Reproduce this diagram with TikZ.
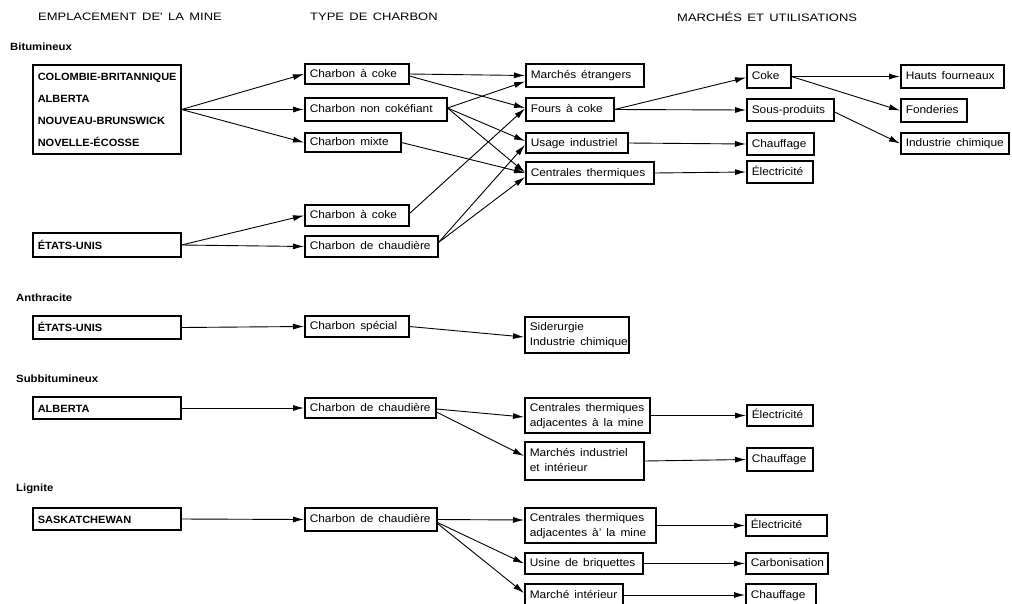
\documentclass[tikz,border=0pt]{standalone}
\usepackage{fontspec}
\setmainfont[FakeStretch=1.08]{Liberation Sans}
\newfontfamily\hdfont[FakeStretch=1.2]{Liberation Sans}
\newfontfamily\srcfont[FakeStretch=1.05]{Liberation Sans Bold}
\usetikzlibrary{arrows.meta}
\newcommand\Bx[6]{\node[#1, minimum width=#4pt, minimum height=#5pt] (#2) at (#3) {\makebox[\dimexpr#4pt-10pt\relax][l]{\begin{tabular}{@{}l@{}}#6\end{tabular}}};}
\newcommand\fBx{\fontsize{11}{15}\selectfont\spaceskip=0.45em\relax}
\newcommand\fSrc{\srcfont\fontsize{10.5}{22}\selectfont\spaceskip=0.4em\relax}
\newcommand\fHd{\hdfont\fontsize{10.8}{12}\selectfont\spaceskip=0.5em\relax}
\newcommand\fSec{\bfseries\fontsize{10.5}{12}\selectfont}
\tikzset{
 bx/.style={draw, line width=1.5pt, inner xsep=5pt, inner ysep=0pt, anchor=west, font=\fBx},
 src/.style={bx, font=\fSrc},
 hd/.style={anchor=west, inner sep=0pt, font=\fHd},
 sec/.style={anchor=west, inner sep=0pt, font=\fSec},
 ar/.style={-{Latex[length=11pt,width=6pt]}, line width=0.9pt},
}
\begin{document}
\begin{tikzpicture}[x=1pt,y=-1pt]
\useasboundingbox (0,0) rectangle (1012,603);
% headers
\node[hd] (h1) at (38,17) {EMPLACEMENT DE' LA MINE};
\node[hd] (h2) at (310,17) {TYPE DE CHARBON};
\node[hd] (h3) at (677,17) {MARCHÉS ET UTILISATIONS};
% section labels
\node[sec] (s1) at (10,47) {Bitumineux};
\node[sec] (s2) at (16,298) {Anthracite};
\node[sec] (s3) at (16,379) {Subbitumineux};
\node[sec] (s4) at (16,489) {Lignite};
% Bitumineux
\Bx{src}{bc}{32,109.5}{148}{89}{COLOMBIE-BRITANNIQUE\\ALBERTA\\NOUVEAU-BRUNSWICK\\NOVELLE-ÉCOSSE}
\Bx{src}{eu1}{32,245}{148}{24}{ÉTATS-UNIS}
\Bx{bx}{ck1}{304,74}{104}{20}{Charbon à coke}
\Bx{bx}{nc}{304,109.5}{142}{23}{Charbon non cokéfiant}
\Bx{bx}{mx}{304,142.5}{96}{19}{Charbon mixte}
\Bx{bx}{ck2}{304,215.5}{104}{21}{Charbon à coke}
\Bx{bx}{ch1}{304,246.5}{133}{21}{Charbon de chaudière}
\Bx{bx}{me}{525,75.5}{118}{23}{Marchés étrangers}
\Bx{bx}{fc}{525,109.5}{88}{23}{Fours à coke}
\Bx{bx}{ui}{525,143}{102}{20}{Usage industriel}
\Bx{bx}{ct}{525,173}{128}{22}{Centrales thermiques}
\Bx{bx}{co}{746,76.5}{44}{23}{Coke}
\Bx{bx}{sp}{746,110}{87}{22}{Sous-produits}
\Bx{bx}{cf1}{746,144}{67}{22}{Chauffage}
\Bx{bx}{el1}{746,172}{66}{22}{Électricité}
\Bx{bx}{hf}{900,76.5}{103}{23}{Hauts fourneaux}
\Bx{bx}{fo}{900,110.5}{66}{23}{Fonderies}
\Bx{bx}{ic}{900,143.5}{108}{21}{Industrie chimique}
% Anthracite
\Bx{src}{eu2}{32,327.5}{148}{23}{ÉTATS-UNIS}
\Bx{bx}{cs}{304,326.5}{104}{21}{Charbon spécial}
\Bx{bx}{si}{524,335}{104}{36}{Siderurgie\\Industrie chimique}
% Subbitumineux
\Bx{src}{ab}{32,408}{148}{22}{ALBERTA}
\Bx{bx}{ch2}{304,408}{131}{20}{Charbon de chaudière}
\Bx{bx}{ca1}{524,415.5}{125}{35}{Centrales thermiques\\adjacentes à la mine}
\Bx{bx}{mi}{524,461}{119}{38}{Marchés industriel\\et intérieur}
\Bx{bx}{el2}{746,415.5}{66}{21}{Électricité}
\Bx{bx}{cf2}{746,459.5}{66}{23}{Chauffage}
% Lignite
\Bx{src}{sk}{32,519}{148}{22}{SASKATCHEWAN}
\Bx{bx}{ch3}{304,519.5}{132}{23}{Charbon de chaudière}
\Bx{bx}{ca2}{524,525.5}{131}{35}{Centrales thermiques\\adjacentes à' la mine}
\Bx{bx}{ub}{524,563.5}{118}{21}{Usine de briquettes}
\Bx{bx}{mint}{524,595}{98}{22}{Marché intérieur}
\Bx{bx}{el3}{745,525.5}{81}{21}{Électricité}
\Bx{bx}{carb}{745,563.5}{82}{21}{Carbonisation}
\Bx{bx}{cf3}{745,595}{70}{22}{Chauffage}
% connectors - Bitumineux
\draw[ar] (bc.east) -- (ck1.west);
\draw[ar] (bc.east) -- (nc.west);
\draw[ar] (bc.east) -- (mx.west);
\draw[ar] (eu1.east) -- (ck2.west);
\draw[ar] (eu1.east) -- (ch1.west);
\draw[ar] (ck1.east) -- (me.west);
\draw[ar] ([yshift=-2pt]ck1.east) -- ([yshift=1.5pt]fc.west);
\draw[ar] ([yshift=1.5pt]nc.east) -- ([yshift=-6pt]me.west);
\draw[ar] ([yshift=1.5pt]nc.east) -- ([yshift=2pt]ui.west);
\draw[ar] ([yshift=1.5pt]nc.east) -- ([yshift=0.5pt]ct.west);
\draw[ar] (mx.east) -- ([yshift=0pt]ct.west);
\draw[ar] ([yshift=2pt]ck2.east) -- ([yshift=1pt]fc.west);
\draw[ar] ([yshift=4pt]ch1.east) -- ([yshift=-2pt]ui.west);
\draw[ar] ([yshift=4pt]ch1.east) -- ([yshift=-4pt]ct.west);
\draw[ar] (fc.east) -- ([yshift=-1pt]co.west);
\draw[ar] (fc.east) -- (sp.west);
\draw[ar] (ui.east) -- (cf1.west);
\draw[ar] (ct.east) -- (el1.west);
\draw[ar] (co.east) -- (hf.west);
\draw[ar] (co.east) -- (fo.west);
\draw[ar] ([yshift=-2pt]sp.east) -- (ic.west);
% Anthracite
\draw[ar] (eu2.east) -- (cs.west);
\draw[ar] (cs.east) -- ([yshift=-2pt]si.west);
% Subbitumineux
\draw[ar] (ab.east) -- (ch2.west);
\draw[ar] ([yshift=-1pt]ch2.east) -- ([yshift=-1.5pt]ca1.west);
\draw[ar] ([yshift=-4pt]ch2.east) -- ([yshift=5pt]mi.west);
\draw[ar] (ca1.east) -- (el2.west);
\draw[ar] (mi.east) -- (cf2.west);
% Lignite
\draw[ar] (sk.east) -- (ch3.west);
\draw[ar] (ch3.east) -- ([yshift=5.5pt]ca2.west);
\draw[ar] ([yshift=-3pt]ch3.east) -- (ub.west);
\draw[ar] ([yshift=-4pt]ch3.east) -- ([yshift=2pt]mint.west);
\draw[ar] (ca2.east) -- (el3.west);
\draw[ar] (ub.east) -- (carb.west);
\draw[ar] (mint.east) -- (cf3.west);
\end{tikzpicture}
\end{document}
